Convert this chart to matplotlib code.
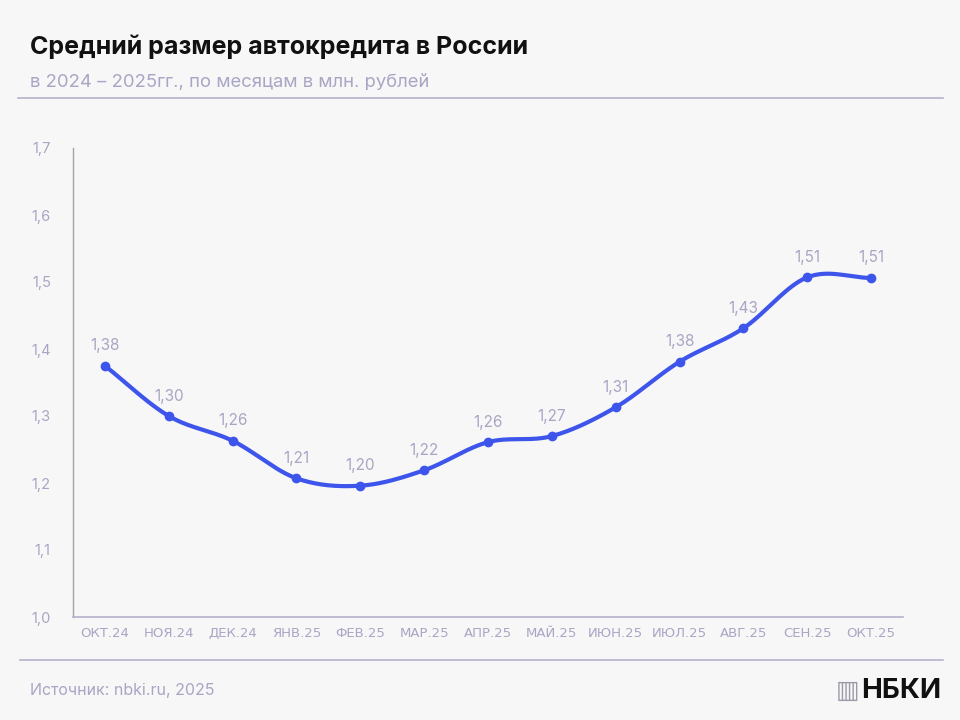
import matplotlib.pyplot as plt
import numpy as np

months = ['ОКТ.24', 'НОЯ.24', 'ДЕК.24', 'ЯНВ.25', 'ФЕВ.25', 'МАР.25', 'АПР.25',
          'МАЙ.25', 'ИЮН.25', 'ИЮЛ.25', 'АВГ.25', 'СЕН.25', 'ОКТ.25']
values = [1.375, 1.300, 1.263, 1.207, 1.196, 1.219, 1.261,
          1.270, 1.313, 1.381, 1.431, 1.507, 1.506]
labels = ['1,38', '1,30', '1,26', '1,21', '1,20', '1,22', '1,26',
          '1,27', '1,31', '1,38', '1,43', '1,51', '1,51']
yticks = [1.0, 1.1, 1.2, 1.3, 1.4, 1.5, 1.6, 1.7]

BG = '#f7f7f7'
LINE = '#3d55ea'
MUTED = '#a8a6c4'
SPINE = '#b4b2cb'

plt.rcParams['font.family'] = ['Inter', 'DejaVu Sans']


def catmull_rom(x, y, n=30):
    # smooth curve through the points (rendering only)
    x = np.asarray(x, float)
    y = np.asarray(y, float)
    px = np.concatenate([[2 * x[0] - x[1]], x, [2 * x[-1] - x[-2]]])
    py = np.concatenate([[2 * y[0] - y[1]], y, [2 * y[-1] - y[-2]]])
    xs, ys = [], []
    t = np.linspace(0, 1, n, endpoint=False)
    for i in range(1, len(px) - 2):
        for arr, out in ((px, xs), (py, ys)):
            p0, p1, p2, p3 = arr[i - 1:i + 3]
            out.extend(0.5 * (2 * p1 + (-p0 + p2) * t
                              + (2 * p0 - 5 * p1 + 4 * p2 - p3) * t ** 2
                              + (-p0 + 3 * p1 - 3 * p2 + p3) * t ** 3))
    xs.append(x[-1])
    ys.append(y[-1])
    return np.array(xs), np.array(ys)


fig = plt.figure(figsize=(9.6, 7.2), dpi=100, facecolor=BG)
ax = fig.add_axes([73 / 960, 1 - 617 / 720, 830 / 960, 469 / 720], facecolor=BG)

xi = np.arange(len(values))
sx, sy = catmull_rom(xi, values)
ax.plot(sx, sy, color=LINE, lw=3, solid_capstyle='round', zorder=3)
ax.scatter(xi, values, s=36, color=LINE, zorder=4)
for x, v, lab in zip(xi, values, labels):
    ax.annotate(lab, (x, v), xytext=(0, 9), textcoords='offset points',
                ha='center', va='bottom', fontsize=11, color=MUTED)

ax.set_xlim(-0.5, len(values) - 0.5)
ax.set_ylim(1.0, 1.7)
ax.set_xticks(xi)
ax.set_xticklabels(months, fontsize=9.5, color=MUTED, family=['DejaVu Sans'])
ax.set_yticks(yticks)
ax.set_yticklabels([f'{t:.1f}'.replace('.', ',') for t in yticks], fontsize=10.5, color=MUTED)
ax.tick_params(length=0, pad=7)
ax.tick_params(axis='y', pad=16)
for s in ('top', 'right'):
    ax.spines[s].set_visible(False)
ax.spines['left'].set_color('#a3a3a8')
ax.spines['bottom'].set_color(SPINE)
ax.spines['left'].set_linewidth(1)
ax.spines['bottom'].set_linewidth(1.2)

fig.text(30 / 960, 1 - 47 / 720, 'Средний размер автокредита в России',
         fontsize=18, fontweight='bold', color='#111111', va='center')
fig.text(30 / 960, 1 - 82 / 720, 'в 2024 – 2025гг., по месяцам в млн. рублей',
         fontsize=13.3, color=MUTED, va='center')
fig.add_artist(plt.Line2D([18 / 960, 943 / 960], [1 - 98 / 720] * 2, color=SPINE, lw=1.2))
fig.add_artist(plt.Line2D([20 / 960, 943 / 960], [1 - 660 / 720] * 2, color=SPINE, lw=1.2))
fig.text(30 / 960, 1 - 690 / 720, 'Источник: nbki.ru, 2025',
         fontsize=11.5, color=MUTED, va='center')
fig.text(941 / 960, 1 - 691 / 720, 'НБКИ', fontsize=20, fontweight='bold',
         color='#111111', va='center', ha='right')
fig.text(848 / 960, 1 - 691 / 720, '▥', fontsize=18, color='#9a9aa8',
         va='center', ha='center', family=['DejaVu Sans'])

fig.savefig('out.png', dpi=100, facecolor=BG)
